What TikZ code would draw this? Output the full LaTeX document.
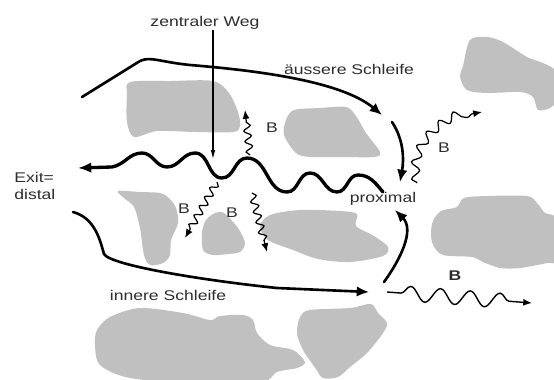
\documentclass[tikz,border=0pt]{standalone}
\usepackage{fontspec}
\setmainfont[FakeStretch=1.25]{Liberation Sans}
\usetikzlibrary{arrows.meta,decorations.pathmorphing}
\definecolor{blobgray}{RGB}{192,192,192}
\definecolor{txtgray}{RGB}{45,45,45}
\begin{document}
\begin{tikzpicture}[x=0.02cm,y=-0.02cm,
  blob/.style={fill=blobgray,draw=none},
  lbl/.style={text=txtgray,font=\fontsize{8}{10}\selectfont,inner sep=0pt,anchor=base},
  lblw/.style={lbl,anchor=base west},
  loop/.style={line width=1.5pt,line cap=round,-{Latex[length=7pt,width=6pt]}},
  mainwave/.style={line width=1.9pt,line cap=round,-{Latex[length=7.5pt,width=6pt]}},
  thinarrow/.style={line width=0.6pt,-{Latex[length=5pt,width=2.6pt]}},
  wav/.style={line width=0.7pt,decorate,decoration={snake,amplitude=2pt,segment length=6pt,post length=5pt},-{Latex[length=5pt,width=4pt]}}
]
\useasboundingbox (0,0) rectangle (554,379);

% ---- grey blobs ----
\fill[blob] plot[smooth cycle,tension=0.5] coordinates {(130,82) (170,81) (213,81) (229,93) (238,112) (240,126) (233,132) (195,132) (157,131) (134,137) (127,122) (127,95)};
\fill[blob] plot[smooth cycle,tension=0.5] coordinates {(294,110) (320,108) (346,107) (356,116) (366,133) (380,152) (374,157) (340,157) (310,157) (296,153) (284,135) (286,120)};
\fill[blob] plot[smooth cycle,tension=0.5] coordinates {(118,191) (140,192) (160,193) (169,198) (176,208) (178,223) (171,240) (170,255) (163,263) (150,265) (144,255) (140,228) (134,207) (124,198)};
\fill[blob] plot[smooth cycle,tension=0.5] coordinates {(215,213) (224,213) (238,228) (245,243) (240,252) (228,254) (213,255) (203,250) (202,232) (206,220)};
\fill[blob] plot[smooth cycle,tension=0.5] coordinates {(260,226) (270,215) (300,210) (340,211) (357,214) (356,226) (374,236) (388,247) (383,256) (350,262) (318,259) (293,250) (268,240)};
\fill[blob] plot[smooth cycle,tension=0.5] coordinates {(97,330) (110,317) (140,308) (183,313) (210,320) (220,316) (243,315) (253,320) (257,333) (270,345) (293,350) (305,362) (297,368) (277,372) (262,382) (200,384) (130,378) (100,365) (95,345)};
\fill[blob] plot[smooth cycle,tension=0.5] coordinates {(300,317) (310,310) (350,308) (371,304) (378,313) (387,323) (383,333) (367,353) (350,367) (338,377) (323,378) (316,369) (303,350) (297,333)};
\fill[blob] plot[smooth cycle,tension=0.5] coordinates {(470,40) (487,37) (503,42) (527,57) (543,63) (556,72) (556,100) (550,108) (538,110) (533,97) (520,92) (487,93) (467,90) (460,77) (463,66)};
\fill[blob] plot[smooth cycle,tension=0.5] coordinates {(433,221) (441,211) (457,207) (464,198) (487,196) (527,196) (537,203) (545,213) (556,219) (556,260) (547,263) (520,268) (500,268) (483,262) (472,257) (443,255) (433,245) (431,233)};

% ---- texts ----
\node[lbl] (zw) at (205,26) {zentraler Weg};
\node[lbl] (as) at (349,74) {äussere Schleife};
\node[lblw] (exit) at (14,182) {Exit=};
\node[lblw] (dist) at (14,199) {distal};
\node[lbl] (prox) at (383,202) {proximal};
\node[lbl] (is) at (168,300) {innere Schleife};
\node[lbl] (b1) at (272,132) {B};
\node[lbl] (b2) at (444,152) {B};
\node[lbl] (b3) at (184,213) {B};
\node[lbl] (b4) at (232,217) {B};
\node[lbl,font=\fontsize{8}{10}\selectfont\bfseries] (b5) at (455,280) {B};

% ---- coordinates for connectors ----
\coordinate (zwTop) at (213,30);
\coordinate (zwTip) at (213,159);
\coordinate (exitTip) at (78,168);
\coordinate (olStart) at (82,97);
\coordinate (olTip) at (382,115);
\coordinate (o2Start) at (392,122);
\coordinate (o2Tip) at (400,182);
\coordinate (ilStart) at (73,212);
\coordinate (ilTip) at (369,292);
\coordinate (upStart) at (384,282);
\coordinate (upTip) at (395,210);

% ---- thick central path ----
\draw[mainwave] (383,192) to[out=130,in=0] (358,175) to[out=180,in=0] (337,192)
  to[out=180,in=0] (310,173) to[out=180,in=0] (287,192) to[out=180,in=0] (247,158)
  to[out=180,in=0] (222,178) to[out=180,in=0] (195,153) to[out=180,in=0] (167,167)
  to[out=180,in=0] (142,153) to[out=180,in=10] (112,167) -- (exitTip);

% ---- outer loop ----
\draw[loop] (olStart) -- (140,61) .. controls (150,56) and (160,62) .. (190,65) .. controls (250,70) and (340,80) .. (olTip);
\draw[loop] (o2Start) .. controls (404,140) and (404,160) .. (o2Tip);

% ---- inner loop ----
\draw[loop] (ilStart) .. controls (95,218) and (100,240) .. (104,254) .. controls (110,265) and (200,280) .. (277,288) -- (ilTip);
\draw[loop] (upStart) .. controls (400,260) and (415,230) .. (upTip);

% ---- zentraler Weg pointer ----
\draw[thinarrow] (zwTop) -- (zwTip);

% ---- B wiggles ----
\draw[wav] (250,155) -- (245,110);
\draw[wav] (217,182) -- (185,238);
\draw[wav] (252,193) -- (267,252);
\draw[wav,decoration={snake,amplitude=2.5pt,segment length=9pt,post length=5pt}] (417,183) .. controls (410,150) and (440,118) .. (482,112);
\draw[line width=0.8pt,decorate,decoration={snake,amplitude=4.2pt,segment length=17pt,pre length=8pt,post length=6pt},-{Latex[length=5pt,width=4pt]}] (387,292) -- (532,303);
\end{tikzpicture}
\end{document}
